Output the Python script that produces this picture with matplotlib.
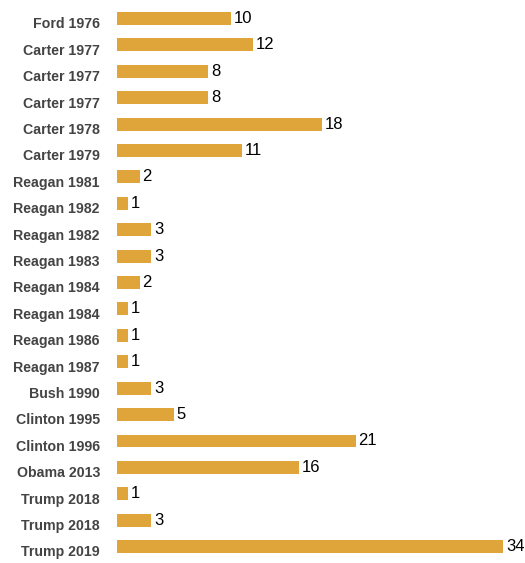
import matplotlib.pyplot as plt

labels = ['Ford 1976', 'Carter 1977', 'Carter 1977', 'Carter 1977', 'Carter 1978',
          'Carter 1979', 'Reagan 1981', 'Reagan 1982', 'Reagan 1982', 'Reagan 1983',
          'Reagan 1984', 'Reagan 1984', 'Reagan 1986', 'Reagan 1987', 'Bush 1990',
          'Clinton 1995', 'Clinton 1996', 'Obama 2013', 'Trump 2018', 'Trump 2018',
          'Trump 2019']
days = [10, 12, 8, 8, 18, 11, 2, 1, 3, 3, 2, 1, 1, 1, 3, 5, 21, 16, 1, 3, 34]

plt.rcParams['font.family'] = ['Liberation Sans', 'DejaVu Sans']

fig = plt.figure(figsize=(5.25, 5.63), dpi=100)
ax = fig.add_axes([117 / 525, 0, 408 / 525, 1])

ypos = list(range(len(days)))
ax.barh(ypos, days, height=0.49, color='#DFA43A')

for y, v, lab in zip(ypos, days, labels):
    ax.text(v + 0.25, y, str(v), va='center', ha='left', fontsize=12, color='black')
    ax.text(-1.5, y + 0.22, lab, va='center', ha='right', fontsize=10.2,
            fontweight='bold', color='#444444', clip_on=False)

ax.set_xlim(0, 35.9)
ax.set_ylim(20.62, -0.70)
ax.axis('off')

fig.savefig('out.png', dpi=100)
